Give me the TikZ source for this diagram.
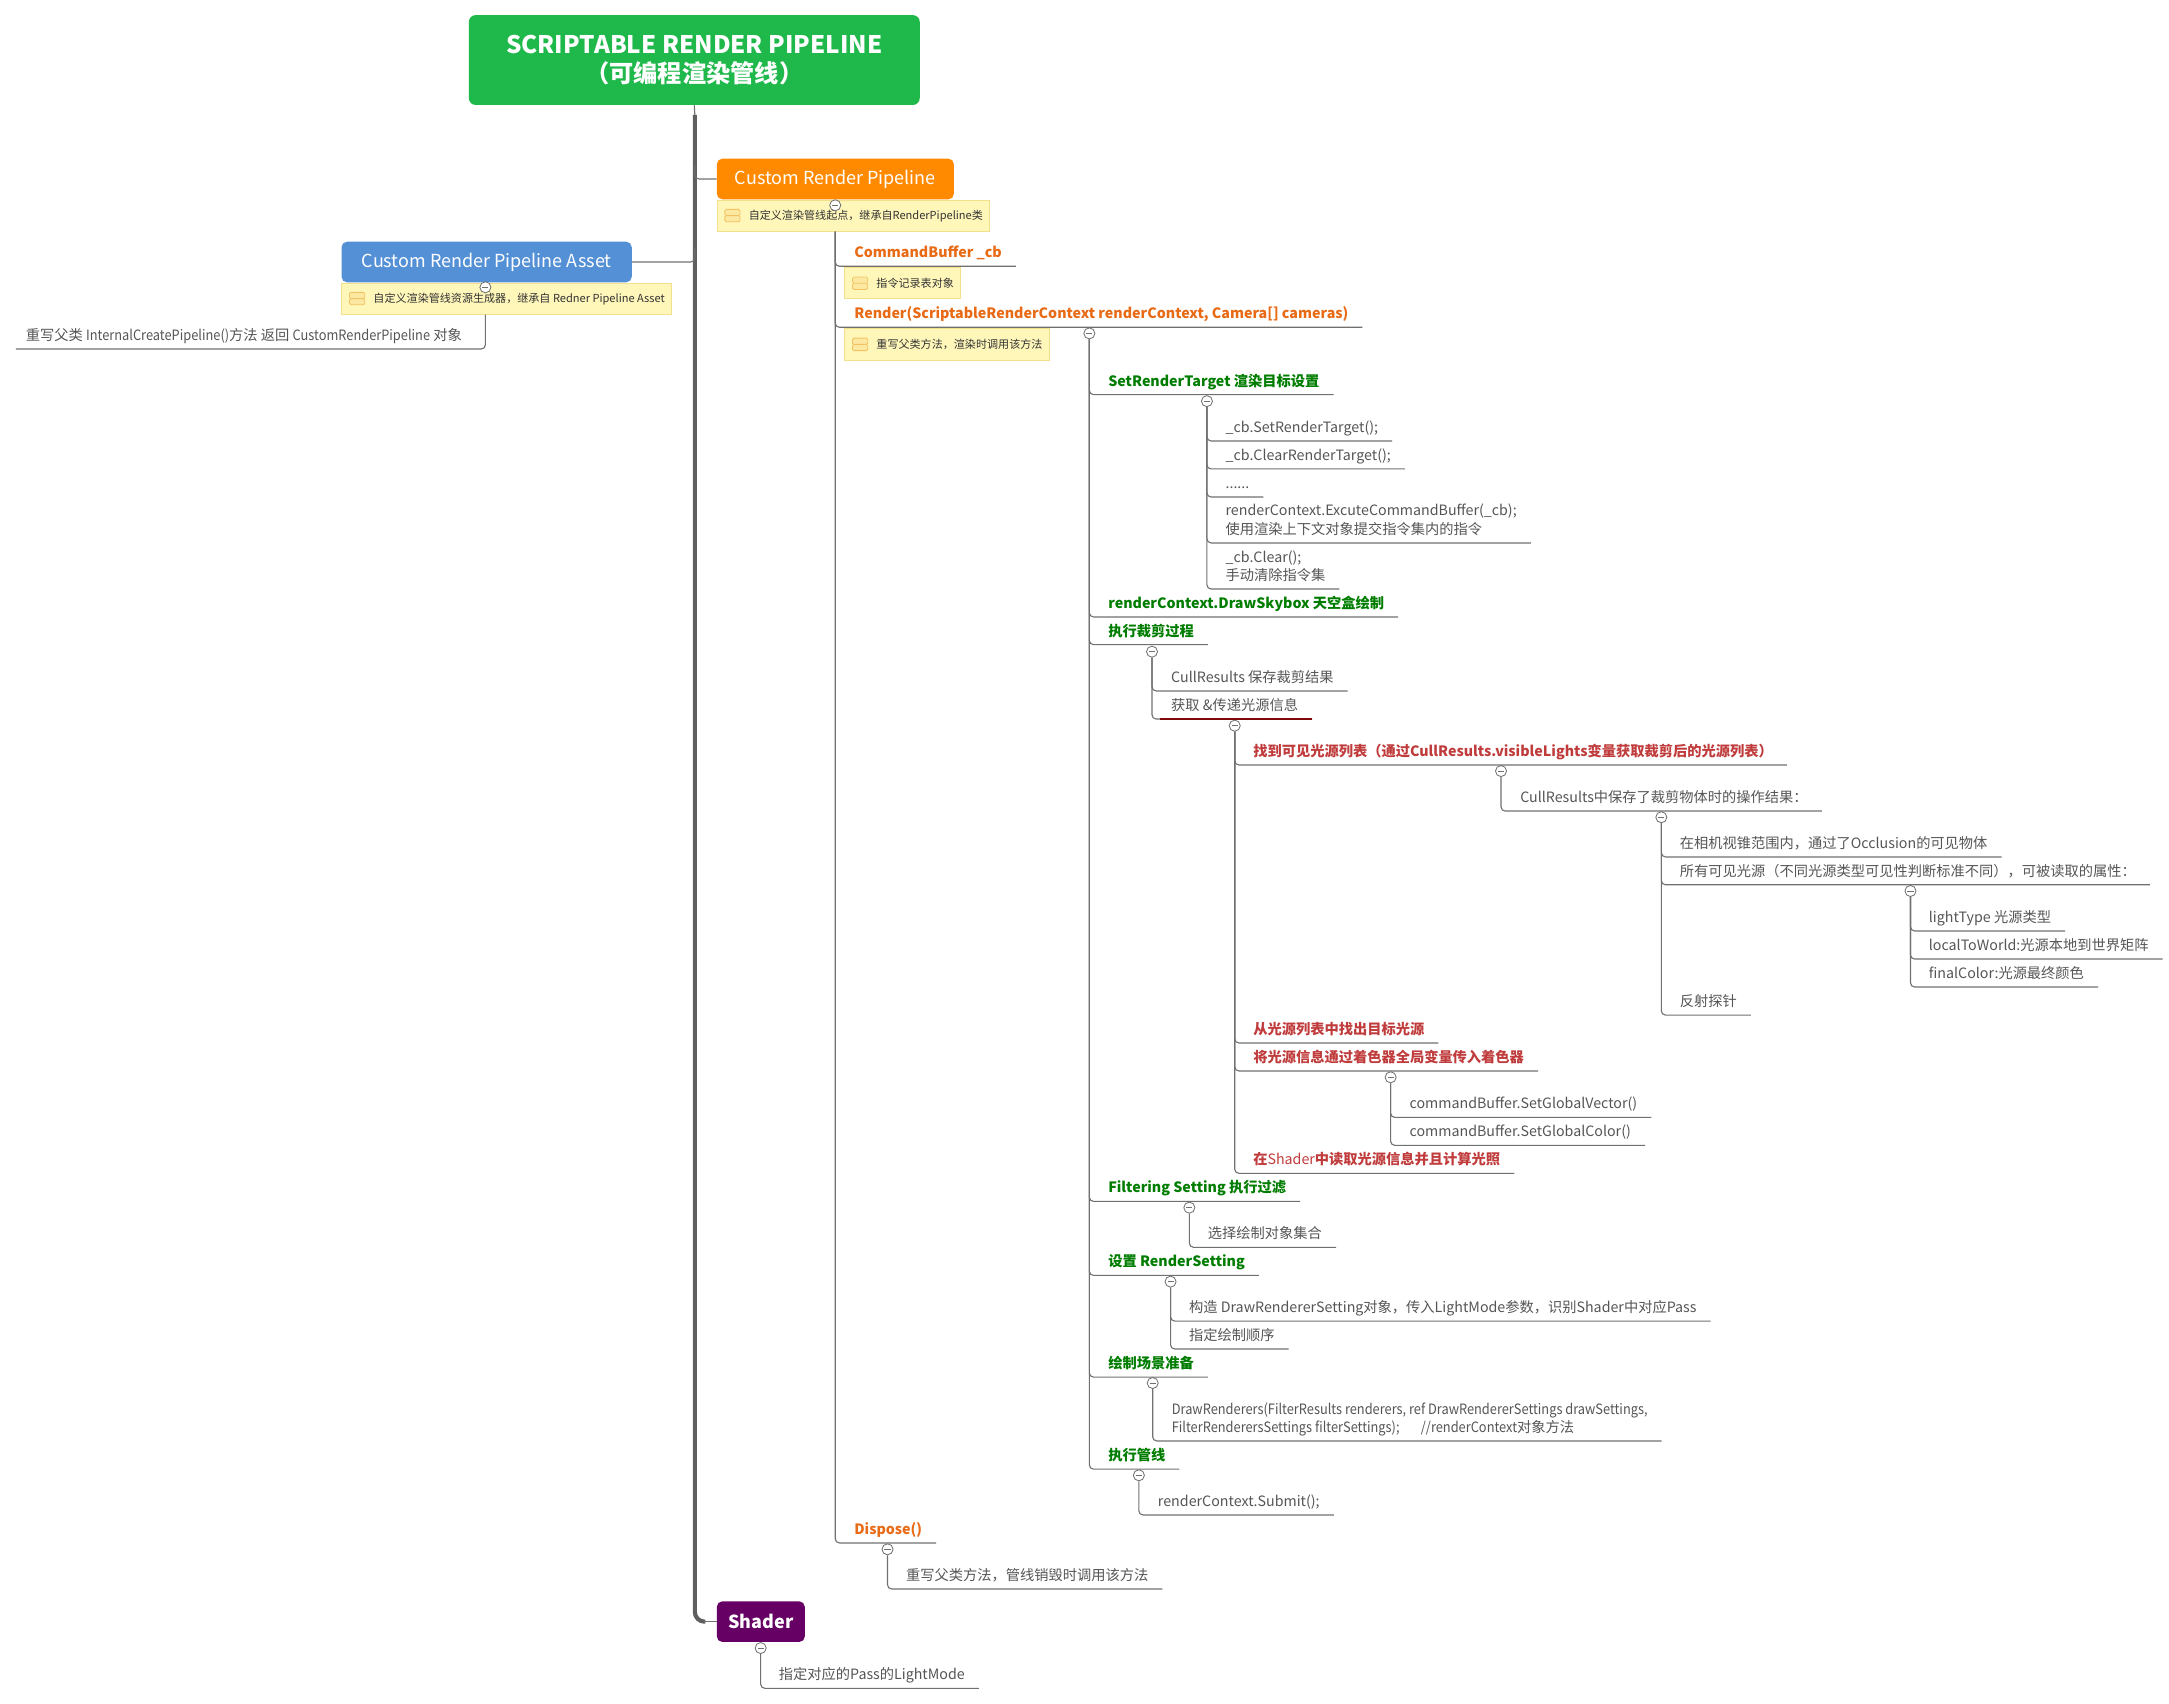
\documentclass[tikz,border=0pt]{standalone}
\usepackage{fontspec}
\setmainfont{Noto Sans CJK SC}
\newfontfamily\narrowfam{Noto Sans CJK SC}[FakeStretch=0.9]
\usetikzlibrary{calc}

\definecolor{rootgreen}{RGB}{31,184,75}
\definecolor{crporange}{RGB}{255,138,0}
\definecolor{assetblue}{RGB}{84,144,214}
\definecolor{shaderpurple}{RGB}{102,0,100}
\definecolor{notefill}{RGB}{255,247,186}
\definecolor{noteline}{RGB}{244,224,140}
\definecolor{iconfill}{RGB}{252,232,160}
\definecolor{iconline}{RGB}{240,196,100}
\definecolor{methodorange}{RGB}{232,106,20}
\definecolor{stagegreen}{RGB}{0,125,0}
\definecolor{lightred}{RGB}{192,60,60}
\definecolor{darkred}{RGB}{128,10,10}
\definecolor{leafgray}{RGB}{85,85,85}
\definecolor{linegray}{RGB}{112,112,112}
\definecolor{trunkgray}{RGB}{95,95,95}

\def\leaffont{\fontsize{10.3}{13.3}\selectfont}
\newcommand{\noteicon}[1]{%
  \draw[iconline, fill=iconfill, line width=0.6pt, rounded corners=1pt]
    ([xshift=6pt]#1.west) rectangle ([xshift=17pt,yshift=4.5pt]#1.west)
    ([xshift=6pt]#1.west) rectangle ([xshift=17pt,yshift=-4.5pt]#1.west);}

\begin{document}
\begin{tikzpicture}[x=1pt, y=-1pt,
    conn/.style={draw=linegray, line width=0.8pt, rounded corners=3pt},
    trunk/.style={draw=trunkgray, line width=3pt, rounded corners=7pt},
    box/.style={rounded corners=4pt, text=white, inner sep=0pt, anchor=north west,
        minimum height=29.4pt, font=\fontsize{13}{15}\selectfont},
    note/.style={draw=noteline, fill=notefill, line width=0.6pt, anchor=north west,
        minimum height=22.5pt, inner xsep=5pt, inner ysep=0pt, text=black!80,
        font=\fontsize{8}{10}\selectfont},
    fold/.style={circle, draw=linegray, fill=white, line width=0.6pt, minimum size=8pt,
        inner sep=0pt, path picture={\draw[linegray, line width=0.7pt]
        ([xshift=-2.2pt]path picture bounding box.center) --
        ([xshift=2.2pt]path picture bounding box.center);}},
    leaf/.style={anchor=south west, inner xsep=10pt, inner ysep=0pt, text depth=6pt,
        align=left, text=leafgray, font=\leaffont},
    method/.style={leaf, text=methodorange, font=\leaffont\bfseries},
    stage/.style={leaf, text=stagegreen, font=\leaffont\bfseries},
    light/.style={leaf, text=lightred, font=\leaffont\bfseries}]

    \useasboundingbox (0,0) rectangle (1568,1231.8);

    % main topics
    \node[box, anchor=center, fill=rootgreen, minimum width=326pt, minimum height=65pt,
        rounded corners=5pt, align=center, font=\fontsize{17.5}{20.4}\selectfont\bfseries]
        (root) at (501.9,43.4) {SCRIPTABLE RENDER PIPELINE\\（可编程渲染管线）};
    \node[box, fill=crporange, minimum width=171.4pt] (crp) at (518,114.5) {Custom Render Pipeline};
    \node[box, fill=assetblue, minimum width=209.8pt] (asset) at (246.7,174.5) {Custom Render Pipeline Asset};
    \node[box, fill=shaderpurple, minimum width=63.6pt, font=\fontsize{13}{15}\selectfont\bfseries]
        (shader) at (518,1157.4) {Shader};

    % notes
    \node[note] (crpnote) at (crp.south west) {\hspace*{18pt}自定义渲染管线起点，继承自RenderPipeline类};
    \node[note] (anote) at (asset.south west) {\hspace*{18pt}自定义渲染管线资源生成器，继承自 Redner Pipeline Asset};
    \node[note] (cbnote) at (610.3,193.2) {\hspace*{18pt}指令记录表对象};
    \node[note] (rendernote) at (610.3,237.4) {\hspace*{18pt}重写父类方法，渲染时调用该方法};
    \foreach \n in {crpnote,anote,cbnote,rendernote} {\noteicon{\n}}

    % fold markers
    \node[fold] (c-crp) at (603.8,148.4) {};
    \node[fold] (c-asset) at (350.9,207.7) {};
    \node[fold] (c-render) at (787.5,241) {};
    \node[fold] (c-srt) at (872.5,290) {};
    \node[fold] (c-cull) at (832.8,471.1) {};
    \node[fold] (c-k2) at (892.6,524.6) {};
    \node[fold] (c-r1) at (1085.1,557.4) {};
    \node[fold] (c-v1) at (1201,590.8) {};
    \node[fold] (c-w2) at (1381.1,644.1) {};
    \node[fold] (c-r3) at (1005.3,778.8) {};
    \node[fold] (c-filt) at (859.8,873) {};
    \node[fold] (c-rset) at (846.2,926.5) {};
    \node[fold] (c-scene) at (833.3,999.8) {};
    \node[fold] (c-exec) at (823.3,1066.5) {};
    \node[fold] (c-dispose) at (641.6,1120) {};
    \node[fold] (c-shader) at (549.9,1191.4) {};

    % asset
    \node[leaf, inner xsep=7pt] (ov) at (11.5,252.3) {重写父类 {\narrowfam InternalCreatePipeline()}方法 返回 {\narrowfam CustomRenderPipeline} 对象};

    % pipeline members
    \node[method] (cb) at (607.4,192.5) {CommandBuffer \_cb};
    \node[method] (render) at (607.4,236.6) {Render(ScriptableRenderContext renderContext, Camera[] cameras)};
    \node[method] (dispose) at (607.4,1115.4) {Dispose()};
    \node[leaf] (o1) at (644.8,1148.7) {重写父类方法，管线销毁时调用该方法};

    % render stages
    \node[stage] (srt) at (791,285.3) {SetRenderTarget 渲染目标设置};
    \node[stage] (sky) at (791,446) {renderContext.DrawSkybox 天空盒绘制};
    \node[stage] (cull) at (791,466) {执行裁剪过程};
    \node[stage] (filt) at (791,868.5) {Filtering Setting 执行过滤};
    \node[stage] (rset) at (791,922) {设置 RenderSetting};
    \node[stage] (scene) at (791,995.5) {绘制场景准备};
    \node[stage] (exec) at (791,1062) {执行管线};

    \node[leaf] (s1) at (875.8,318.8) {\_cb.SetRenderTarget();};
    \node[leaf] (s2) at (875.8,339) {\_cb.ClearRenderTarget();};
    \node[leaf] (s3) at (875.8,359.3) {......};
    \node[leaf] (s4) at (875.8,392.5) {renderContext.ExcuteCommandBuffer(\_cb);\\使用渲染上下文对象提交指令集内的指令};
    \node[leaf] (s5) at (875.8,425.8) {\_cb.Clear();\\手动清除指令集};

    \node[leaf] (k1) at (836.5,499.5) {CullResults 保存裁剪结果};
    \node[leaf] (k2) at (836.5,519.8) {获取 \&传递光源信息};

    \node[light] (r1) at (895.8,553) {找到可见光源列表（通过CullResults.visibleLights变量获取裁剪后的光源列表）};
    \node[light] (r2) at (895.8,754) {从光源列表中找出目标光源};
    \node[light] (r3) at (895.8,774.2) {将光源信息通过着色器全局变量传入着色器};
    \node[light] (r4) at (895.8,848.2) {在{\mdseries Shader}中读取光源信息并且计算光照};

    \node[leaf] (v1) at (1088.8,586.3) {CullResults中保存了裁剪物体时的操作结果：};
    \node[leaf] (w1) at (1204.2,619.5) {在相机视锥范围内，通过了Occlusion的可见物体};
    \node[leaf] (w2) at (1204.2,639.6) {所有可见光源（不同光源类型可见性判断标准不同），可被读取的属性：};
    \node[leaf] (w3) at (1204.2,733.8) {反射探针};
    \node[leaf] (p1) at (1384.2,673) {lightType 光源类型};
    \node[leaf] (p2) at (1384.2,693.3) {localToWorld:光源本地到世界矩阵};
    \node[leaf] (p3) at (1384.2,713.5) {finalColor:光源最终颜色};
    \node[leaf] (g1) at (1008.8,807.8) {commandBuffer.SetGlobalVector()};
    \node[leaf] (g2) at (1008.8,828) {commandBuffer.SetGlobalColor()};

    \node[leaf] (f1) at (863,901.7) {选择绘制对象集合};
    \node[leaf] (e1) at (849.4,955) {构造 DrawRendererSetting对象，传入LightMode参数，识别Shader中对应Pass};
    \node[leaf] (e2) at (849.4,975.2) {指定绘制顺序};
    \node[leaf] (d1) at (836.9,1041.7) {{\narrowfam DrawRenderers(FilterResults renderers, ref DrawRendererSettings drawSettings,}\\{\narrowfam FilterRenderersSettings filterSettings);\hspace{1.5em}//renderContext}对象方法};
    \node[leaf] (x1) at (826.9,1095.2) {renderContext.Submit();};

    \node[leaf] (h1) at (552.9,1220.5) {指定对应的Pass的LightMode};

    % trunk and branches
    \coordinate (tk) at (502.3,83);
    \draw[conn] (root.south) -- (tk);
    \draw[trunk] (tk) |- ([xshift=-8pt]shader.west);
    \draw[conn] ([xshift=-9pt]shader.west) -- (shader.west);
    \draw[conn] ([yshift=10pt]crp.west -| tk) |- (crp.west);
    \draw[conn] ([yshift=10pt]asset.east -| tk) |- (asset.east);

    \draw[conn] (anote.south -| c-asset) |- (ov.south west);
    \foreach \n in {cb,render,dispose}
        \draw[conn] (crpnote.south -| c-crp) |- (\n.south east);
    \foreach \n in {srt,sky,cull,filt,rset,scene,exec}
        \draw[conn] (c-render.south) |- (\n.south east);
    \foreach \i in {1,...,5}
        \draw[conn] (c-srt.south) |- (s\i.south east);
    \foreach \i in {1,2}
        \draw[conn] (c-cull.south) |- (k\i.south east);
    \foreach \i in {1,...,4}
        \draw[conn] (c-k2.south) |- (r\i.south east);
    \draw[conn] (c-r1.south) |- (v1.south east);
    \foreach \i in {1,2,3} {
        \draw[conn] (c-v1.south) |- (w\i.south east);
        \draw[conn] (c-w2.south) |- (p\i.south east);
    }
    \foreach \i in {1,2}
        \draw[conn] (c-r3.south) |- (g\i.south east);
    \draw[conn] (c-filt.south) |- (f1.south east);
    \foreach \i in {1,2}
        \draw[conn] (c-rset.south) |- (e\i.south east);
    \draw[conn] (c-scene.south) |- (d1.south east);
    \draw[conn] (c-exec.south) |- (x1.south east);
    \draw[conn] (c-dispose.south) |- (o1.south east);
    \draw[conn] (c-shader.south) |- (h1.south east);
    \draw[darkred, line width=0.8pt] ([xshift=2pt]k2.south west) -- (k2.south east);
\end{tikzpicture}
\end{document}
